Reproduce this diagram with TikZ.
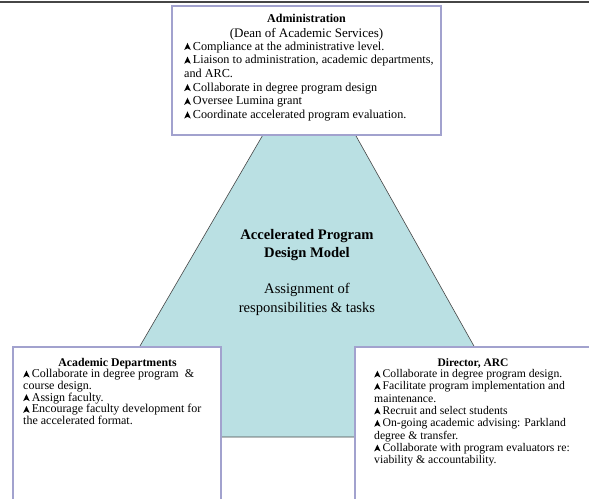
\documentclass[tikz,border=0pt]{standalone}
\usepackage{fontspec}
\setmainfont{Liberation Serif}
\definecolor{teal1}{RGB}{186,224,227}
\definecolor{lav}{RGB}{162,162,206}
\definecolor{edge}{RGB}{70,70,70}
\newcommand\tri{\tikz[baseline=0pt]\fill[black] (0pt,0pt) -- (0.27em,0.58em) -- (0.54em,0pt) -- (0.27em,0.14em) -- cycle;\hspace{0.18em}}
\tikzset{
  box/.style={draw=lav, line width=1.1pt, fill=white},
  itemtext/.style={anchor=base west, inner sep=0pt, align=left},
  titletext/.style={anchor=base, inner sep=0pt, align=center},
}
\begin{document}
\begin{tikzpicture}[x=1pt,y=-1pt]
\useasboundingbox (0,0) rectangle (589,498);
\fill[white] (0,0) rectangle (589,498);
\draw[edge, line width=1.6pt] (0,2) -- (589,2);
% triangle
\filldraw[fill=teal1, draw=edge, line width=0.6pt] (310,54) -- (87,437) -- (525,437) -- cycle;
% note: base anchor of a multi-line node is the baseline of its last line
\node[titletext, font=\fontsize{14.6}{18}\selectfont\bfseries] (title) at (307,257.5) {Accelerated Program\\Design Model};
\node[titletext, font=\fontsize{14.6}{19}\selectfont] (sub) at (307,312) {Assignment of\\responsibilities \& tasks};
% top box
\draw[box] (172,6) rectangle (441,135);
\node[titletext, font=\fontsize{12}{14}\selectfont\bfseries] (admt) at (306.5,22.5) {Administration};
\node[titletext, font=\fontsize{13}{14}\selectfont] (adms) at (306.5,37) {(Dean of Academic Services)};
\node[itemtext, font=\fontsize{12.2}{13.7}\selectfont] (admi) at (184,118.5) {\tri Compliance at the administrative level.\\
\tri Liaison to administration, academic departments,\\
and ARC.\\
\tri Collaborate in degree program design\\
\tri Oversee Lumina grant\\
\tri Coordinate accelerated program evaluation.};
% left box
\draw[box] (13,347) rectangle (221,520);
\node[titletext, font=\fontsize{11.8}{12}\selectfont\bfseries] (acdt) at (117.5,366.5) {Academic Departments};
\node[itemtext, font=\fontsize{12}{11.8}\selectfont] (acdi) at (23,424.7) {\tri Collaborate in degree program \ \&\\
course design.\\
\tri Assign faculty.\\
\tri Encourage faculty development for\\
the accelerated format.};
% right box
\draw[box] (355,347) rectangle (620,520);
\node[titletext, font=\fontsize{11.5}{12}\selectfont\bfseries] (arct) at (473,366.5) {Director, ARC};
\node[itemtext, font=\fontsize{11.7}{12.3}\selectfont] (arci) at (374,463.6) {\tri Collaborate in degree program design.\\
\tri Facilitate program implementation and\\
maintenance.\\
\tri Recruit and select students\\
\tri On-going academic advising: Parkland\\
degree \& transfer.\\
\tri Collaborate with program evaluators re:\\
viability \& accountability.};
\end{tikzpicture}
\end{document}
